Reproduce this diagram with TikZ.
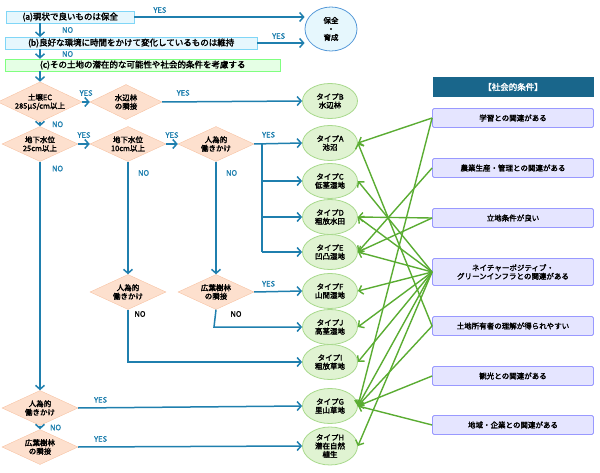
\documentclass[tikz,border=0pt]{standalone}
\usepackage{fontspec}
\setmainfont{Noto Sans CJK JP}[AutoFakeBold=2.2]
\usetikzlibrary{shapes.geometric,arrows.meta}
\definecolor{bl}{HTML}{1F7FAE}
\definecolor{gr}{HTML}{5AAC32}
\definecolor{dfill}{HTML}{FDE0CE}
\definecolor{ddraw}{HTML}{F7C3A3}
\definecolor{efill}{HTML}{E0F3D2}
\definecolor{edraw}{HTML}{A8D98C}
\begin{document}
\begin{tikzpicture}[x=1pt,y=-1pt,font=\bfseries\fontsize{7.5}{8.5}\selectfont,
 dia/.style={diamond,aspect=2.1,fill=dfill,draw=ddraw,inner sep=0pt,minimum width=76,minimum height=35,align=center},
 ell/.style={ellipse,fill=efill,draw=edraw,line width=0.8,minimum width=55,minimum height=35,inner sep=0pt,align=center},
 sc/.style={rectangle,rounded corners=1.5,fill=blue!10,draw=blue!40,line width=0.8,minimum width=161,minimum height=19,align=center},
 ba/.style={bl,line width=1.5,-{Straight Barb[length=4,width=9]}},
 bl2/.style={bl,line width=1.5},
 ga/.style={gr,line width=1.4,-{Straight Barb[length=4,width=9]}},
 lb/.style={font=\bfseries\fontsize{7.5}{8.5}\selectfont}]
\useasboundingbox (0,0) rectangle (600,473);
% top boxes
\node[draw=cyan!50,fill=cyan!10,anchor=west,minimum width=128,minimum height=12,inner sep=1pt,font=\bfseries\fontsize{8.5}{9}\selectfont] (a) at (6,17) {(a)現状で良いものは保全};
\node[draw=cyan!50,fill=cyan!10,anchor=west,minimum width=252,minimum height=12,inner sep=1pt,font=\bfseries\fontsize{8.5}{9}\selectfont] (b) at (5,43) {(b)良好な環境に時間をかけて変化しているものは維持};
\node[draw=green!50,fill=green!10,anchor=west,minimum width=275,minimum height=12,inner sep=1pt,font=\bfseries\fontsize{8.5}{9}\selectfont] (c) at (5,65) {(c)その土地の潜在的な可能性や社会的条件を考慮する};
\node[ellipse,draw=cyan!60!blue!70,line width=0.8,fill=cyan!10,minimum width=52,minimum height=44,align=center] (P) at (331,29) {保全\\・\\育成};
\coordinate (ax) at (40,23); \coordinate (bx) at (40,37);
\draw[ba] (a.east) -- (P.west|-a.east) node[pos=0.15,above,lb]{YES};
\draw[ba] (b.east) -- (P.west|-b.east) node[pos=0.45,above,lb]{YES};
% diamonds
\node[dia] (d1) at (40,102) {土壌EC\\285μS/cm以上};
\node[dia,minimum width=72] (d2) at (126,102) {水辺林\\の隣接};
\node[dia] (d3) at (40,144) {地下水位\\25cm以上};
\node[dia] (d4) at (128,144) {地下水位\\10cm以上};
\node[dia] (d5) at (216,144) {人為的\\働きかけ};
\node[dia] (d6) at (128,292) {人為的\\働きかけ};
\node[dia] (d7) at (216,292) {広葉樹林\\の隣接};
\node[dia] (d8) at (40,408) {人為的\\働きかけ};
\node[dia] (d9) at (40,447) {広葉樹林\\の隣接};
\draw[ba] (ax) -- (bx) node[midway,right=18,lb]{NO};
\draw[ba] (ax|-b.south) -- (ax|-c.north) node[midway,right=18,lb]{NO};
\draw[ba] (ax|-c.south) -- (d1.north);
% ellipses
\node[ell] (B) at (330,101) {タイプB\\水辺林};
\node[ell] (A) at (330,143) {タイプA\\池沼};
\node[ell] (C) at (330,181) {タイプC\\低茎湿地};
\node[ell] (D) at (330,217) {タイプD\\粗放水田};
\node[ell] (E) at (330,252) {タイプE\\凹凸湿地};
\node[ell] (F) at (330,291) {タイプF\\山間湿地};
\node[ell] (J) at (330,327) {タイプJ\\高茎湿地};
\node[ell] (I) at (330,362) {タイプI\\粗放草地};
\node[ell] (G) at (330,406) {タイプG\\里山草地};
\node[ell,minimum height=38] (H) at (330,446) {タイプH\\潜在自然\\植生};
% blue flow
\draw[ba] (d1.east) -- (d2.west) node[midway,above=2,lb]{YES};
\draw[ba] (d2.east) -- (B.west) node[pos=0.15,above=2,lb]{YES};
\draw[ba] (d1.south) -- (d3.north) node[midway,right=8,lb]{NO};
\draw[ba] (d3.east) -- (d4.west) node[midway,above=2,lb]{YES};
\draw[ba] (d4.east) -- (d5.west) node[midway,above=2,lb]{YES};
\draw[ba] (d5.east) -- (A.west) node[pos=0.3,above=2,lb]{YES};
\coordinate (v1) at (262,143); \coordinate (v2) at (262,252);
\draw[bl2] (v1) -- (v2);
\draw[ba] (v1|-C) -- (C.west);
\draw[ba] (v1|-D) -- (D.west);
\draw[ba] (v2) -- (E.west);
\draw[ba] (d3.south) -- (d8.north) node[pos=0.03,right=8,lb]{NO};
\draw[ba] (d4.south) -- (d6.north) node[pos=0.1,right=6,lb]{NO};
\draw[ba] (d5.south) -- (d7.north) node[pos=0.1,right=6,lb]{NO};
\draw[ba] (d7.east) -- (F.west) node[pos=0.3,above=1,lb]{YES};
\coordinate (j1) at (214,327); \coordinate (i1) at (128,362);
\draw[ba] (d7.south) -- (j1) -- (J.west);
\node[lb] at (236,314) {NO};
\draw[ba] (d6.south) -- (i1) -- (I.west);
\node[lb] at (140,314) {NO};
\draw[ba] (d8.east) -- (G.west) node[pos=0.1,above=1,lb]{YES};
\draw[ba] (d8.south) -- (d9.north) node[midway,right=6,lb]{NO};
\draw[ba] (d9.east) -- (H.west) node[pos=0.1,above=1,lb]{YES};
% social conditions
\node[fill=bl!80!black,minimum width=161,minimum height=20,text=white,font=\bfseries\fontsize{8.5}{9}\selectfont] (hd) at (513,87) {【社会的条件】};
\node[sc] (s1) at (513,118) {学習との関連がある};
\node[sc] (s2) at (513,168) {農業生産・管理との関連がある};
\node[sc] (s3) at (513,218) {立地条件が良い};
\node[sc,minimum height=27] (s4) at (513,272) {ネイチャーポジティブ・\\グリーンインフラとの関連がある};
\node[sc] (s5) at (513,326) {土地所有者の理解が得られやすい};
\node[sc] (s6) at (513,376) {観光との関連がある};
\node[sc] (s7) at (513,425) {地域・企業との関連がある};
\foreach \s/\t in {s1/A,s1/G,s2/E,s3/D,s3/E,s4/C,s4/D,s4/E,s4/F,s4/J,s4/I,s4/G,s4/H,s5/A,s5/G,s6/G,s7/G}
  \draw[ga] (\s.west) -- (\t.east);
\end{tikzpicture}
\end{document}
